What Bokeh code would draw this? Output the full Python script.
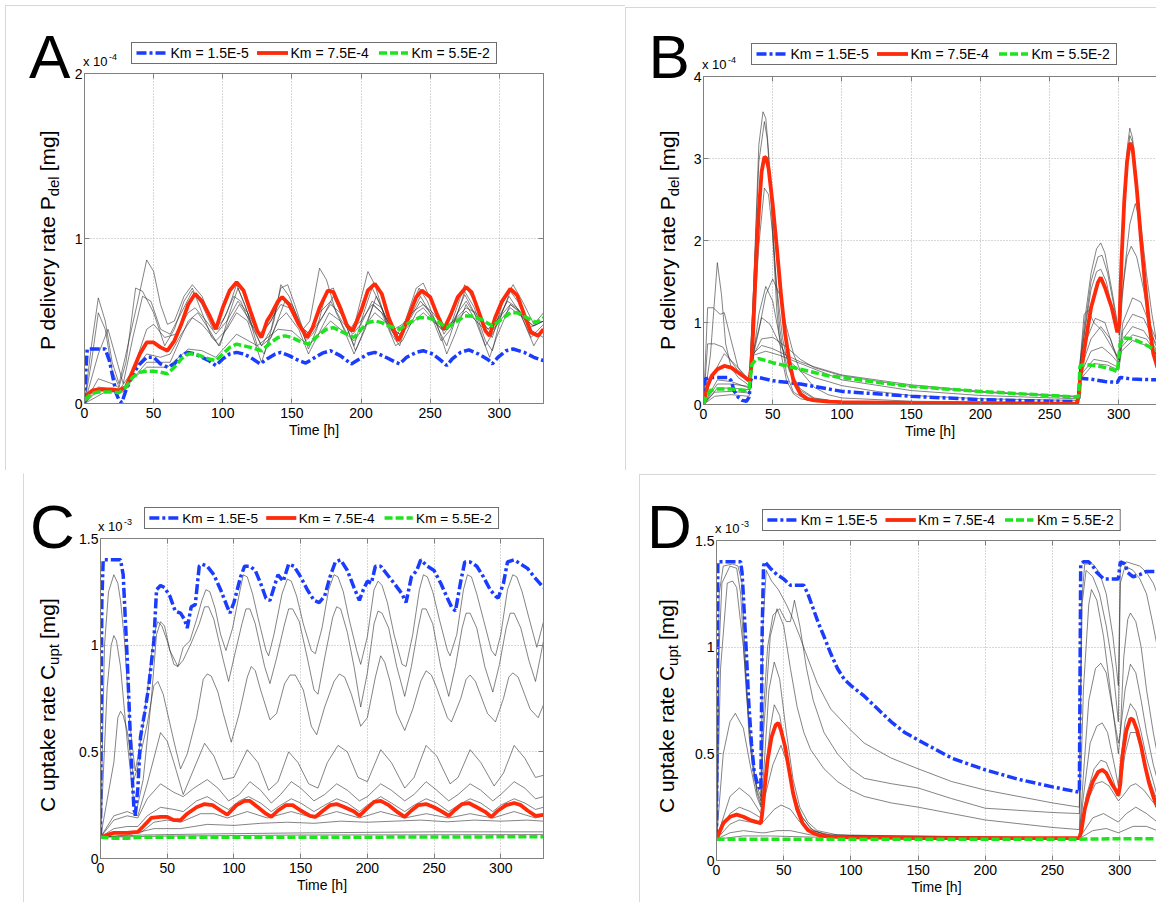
from bokeh.plotting import figure
from bokeh.models import Range1d, FixedTicker, Spacer, Div, LinearAxis, CustomJSTickFormatter
from bokeh.layouts import column, row
from bokeh.embed import file_html
from bokeh.resources import INLINE

# ---------------------------------------------------------------- data
TIME_TICKS = [0, 50, 100, 150, 200, 250, 300]
LEGEND_LABELS = ["Km = 1.5E-5", "Km = 7.5E-4", "Km = 5.5E-2"]
A_YTICKS = [0, 1, 2]
B_YTICKS = [0, 1, 2, 3, 4]
CD_YTICKS = [0, 0.5, 1, 1.5]

# Panel A  (P delivery rate, x 1e-4 mg)
A_red = [(0,0.02),(3,0.06),(6,0.08),(10,0.085),(15,0.085),(20,0.085),(25,0.08),(30,0.1),(35,0.2),(40,0.3),(45,0.37),(50,0.37),(55,0.34),(60,0.32),(65,0.38),(70,0.48),(75,0.6),(80,0.665),(85,0.62),(90,0.54),(95,0.45),(100,0.58),(105,0.685),(110,0.735),(115,0.685),(120,0.56),(125,0.44),(128,0.40),(132,0.50),(135,0.54),(140,0.62),(143,0.645),(148,0.60),(155,0.48),(161,0.40),(165,0.46),(170,0.58),(176,0.685),(180,0.675),(185,0.58),(190,0.47),(194,0.44),(200,0.56),(205,0.685),(210,0.725),(215,0.665),(220,0.52),(227,0.38),(230,0.43),(235,0.54),(240,0.645),(244,0.685),(250,0.645),(255,0.54),(260,0.45),(265,0.54),(270,0.645),(276,0.705),(280,0.675),(285,0.56),(290,0.44),(293,0.41),(297,0.52),(302,0.62),(308,0.695),(313,0.655),(318,0.54),(323,0.43),(328,0.41),(332,0.45)]
A_blue = [(0,0),(1,0.2),(2,0.33),(8,0.33),(15,0.33),(18,0.26),(20,0.18),(23,0.06),(25,0.02),(27,0.005),(30,0.08),(35,0.18),(40,0.24),(45,0.28),(50,0.28),(55,0.24),(60,0.22),(65,0.24),(70,0.29),(75,0.31),(80,0.30),(85,0.28),(90,0.26),(95,0.23),(100,0.27),(105,0.30),(110,0.31),(115,0.30),(120,0.28),(127,0.24),(132,0.27),(138,0.30),(142,0.31),(148,0.29),(155,0.26),(160,0.245),(165,0.27),(172,0.305),(178,0.32),(185,0.29),(193,0.24),(198,0.265),(205,0.30),(210,0.31),(218,0.28),(225,0.25),(228,0.24),(233,0.28),(240,0.31),(245,0.32),(252,0.30),(258,0.26),(262,0.23),(266,0.27),(272,0.31),(278,0.325),(285,0.30),(292,0.265),(295,0.24),(299,0.28),(305,0.32),(310,0.33),(318,0.31),(325,0.28),(332,0.26)]
A_green = [(0,0.02),(5,0.06),(10,0.07),(20,0.07),(25,0.065),(30,0.1),(35,0.16),(40,0.19),(45,0.195),(50,0.195),(55,0.19),(60,0.18),(65,0.22),(70,0.27),(75,0.30),(80,0.30),(85,0.285),(90,0.27),(95,0.26),(100,0.30),(105,0.34),(110,0.36),(115,0.35),(120,0.34),(128,0.32),(135,0.37),(140,0.40),(145,0.41),(150,0.40),(155,0.38),(162,0.36),(170,0.42),(175,0.45),(180,0.46),(185,0.44),(195,0.40),(200,0.45),(205,0.49),(210,0.50),(215,0.49),(220,0.47),(228,0.45),(235,0.49),(242,0.52),(248,0.52),(255,0.50),(262,0.46),(268,0.49),(275,0.53),(280,0.53),(287,0.51),(295,0.47),(300,0.50),(308,0.55),(313,0.55),(320,0.52),(327,0.49),(332,0.52)]
A_k1 = [(0,0),(5,0.35),(10,0.64),(15,0.5),(20,0.25),(25,0.12),(30,0.3),(38,0.6),(45,0.87),(50,0.8),(55,0.6),(60,0.48),(65,0.5),(72,0.65),(78,0.72),(85,0.65),(92,0.5),(97,0.45),(103,0.55),(110,0.72),(116,0.6),(122,0.45),(128,0.35),(135,0.45),(142,0.7),(147,0.72),(152,0.6),(158,0.45),(163,0.5),(170,0.82),(175,0.75),(182,0.55),(190,0.42),(196,0.5),(205,0.8),(210,0.72),(218,0.5),(225,0.4),(232,0.5),(240,0.7),(245,0.73),(252,0.6),(260,0.42),(266,0.5),(275,0.72),(282,0.62),(290,0.45),(295,0.4),(302,0.6),(310,0.72),(318,0.6),(325,0.48),(332,0.55)]
A_k2 = [(0,0),(5,0.25),(10,0.55),(15,0.45),(20,0.2),(25,0.1),(30,0.25),(37,0.7),(42,0.68),(50,0.55),(58,0.35),(65,0.45),(72,0.62),(78,0.7),(85,0.55),(92,0.4),(98,0.35),(105,0.55),(111,0.7),(118,0.55),(125,0.35),(130,0.3),(137,0.5),(142,0.72),(148,0.65),(155,0.5),(162,0.33),(168,0.45),(175,0.68),(180,0.7),(188,0.5),(195,0.35),(202,0.55),(208,0.7),(214,0.6),(222,0.42),(228,0.35),(235,0.55),(242,0.7),(248,0.62),(256,0.45),(262,0.35),(268,0.5),(275,0.68),(282,0.58),(290,0.38),(295,0.32),(302,0.55),(308,0.68),(315,0.6),(322,0.45),(332,0.4)]
A_k3 = [(0,0),(10,0.3),(17,0.45),(22,0.3),(28,0.12),(35,0.4),(42,0.65),(48,0.62),(55,0.45),(62,0.42),(70,0.55),(78,0.68),(85,0.6),(93,0.45),(100,0.5),(108,0.65),(113,0.62),(120,0.48),(128,0.42),(135,0.5),(143,0.65),(150,0.6),(158,0.45),(163,0.42),(170,0.55),(178,0.62),(186,0.5),(194,0.42),(200,0.48),(208,0.62),(215,0.58),(222,0.45),(228,0.42),(236,0.52),(243,0.62),(250,0.55),(258,0.45),(263,0.45),(270,0.55),(276,0.62),(284,0.52),(292,0.45),(298,0.5),(306,0.62),(313,0.58),(322,0.46),(332,0.5)]
A_k4 = [(0,0),(10,0.15),(20,0.12),(28,0.08),(35,0.2),(45,0.3),(55,0.28),(62,0.3),(70,0.42),(78,0.52),(85,0.48),(95,0.38),(103,0.45),(110,0.55),(118,0.5),(128,0.25),(132,0.35),(140,0.5),(146,0.55),(155,0.45),(162,0.3),(168,0.4),(177,0.55),(185,0.5),(195,0.3),(200,0.4),(209,0.6),(215,0.55),(225,0.35),(230,0.38),(240,0.55),(245,0.58),(255,0.48),(262,0.3),(268,0.42),(276,0.6),(283,0.5),(293,0.28),(298,0.4),(308,0.6),(315,0.55),(325,0.35),(332,0.45)]
A_k5 = [(0,0),(10,0.1),(25,0.08),(35,0.2),(45,0.45),(50,0.48),(58,0.4),(66,0.42),(75,0.55),(80,0.58),(88,0.5),(95,0.42),(103,0.5),(111,0.62),(118,0.55),(126,0.42),(133,0.48),(142,0.6),(148,0.58),(156,0.47),(163,0.42),(170,0.5),(178,0.6),(185,0.55),(193,0.45),(200,0.5),(208,0.6),(215,0.55),(224,0.45),(230,0.48),(238,0.56),(245,0.6),(252,0.55),(260,0.46),(267,0.5),(276,0.58),(283,0.55),(292,0.45),(300,0.52),(308,0.6),(315,0.56),(324,0.47),(332,0.5)]
A_k6 = [(0,0),(15,0.07),(28,0.07),(35,0.15),(45,0.25),(55,0.25),(62,0.25),(75,0.5),(82,0.55),(90,0.45),(97,0.35),(105,0.5),(112,0.6),(120,0.5),(128,0.35),(135,0.4),(145,0.62),(152,0.55),(160,0.38),(165,0.42),(172,0.52),(180,0.65),(188,0.5),(196,0.32),(203,0.45),(211,0.65),(218,0.52),(226,0.38),(233,0.48),(243,0.65),(250,0.55),(258,0.38),(265,0.45),(275,0.66),(282,0.55),(290,0.35),(297,0.45),(307,0.65),(315,0.55),(323,0.4),(332,0.48)]
A_k7 = [(0,0),(10,0.08),(25,0.07),(35,0.15),(45,0.22),(60,0.22),(75,0.33),(85,0.32),(95,0.28),(110,0.42),(125,0.35),(140,0.45),(150,0.44),(162,0.35),(178,0.5),(195,0.38),(210,0.55),(228,0.42),(245,0.55),(260,0.44),(276,0.56),(293,0.42),(308,0.58),(325,0.47),(332,0.5)]

# Panel B  (P delivery rate, x 1e-4 mg)
B_red = [(0,0),(3,0.23),(6,0.35),(10,0.43),(15,0.47),(20,0.45),(25,0.39),(30,0.33),(33,0.29),(34.5,0.45),(36,0.94),(38,1.75),(40,2.36),(42,2.84),(44,3.02),(45.5,3.0),(47,2.88),(50,2.44),(53,1.91),(56,1.34),(59,0.86),(62,0.53),(65,0.29),(70,0.13),(75,0.07),(80,0.05),(90,0.036),(100,0.03),(150,0.02),(200,0.015),(270,0.01),(271.5,0.15),(272,0.29),(275,0.66),(280,1.18),(285,1.49),(287,1.55),(290,1.43),(295,1.18),(299,0.88),(300.5,0.98),(302,1.75),(304,2.48),(306,2.96),(308,3.19),(310,3.13),(313,2.64),(316,2.03),(319,1.47),(322,0.98),(325,0.62),(328,0.45)]
B_blue = [(0,0),(1,0.31),(5,0.33),(18,0.33),(20,0.29),(22,0.17),(25,0.09),(28,0.05),(31,0.04),(33,0.09),(34,0.29),(35,0.33),(40,0.33),(50,0.29),(60,0.27),(70,0.25),(80,0.22),(90,0.19),(100,0.16),(125,0.13),(150,0.1),(175,0.08),(200,0.06),(225,0.05),(250,0.04),(271,0.035),(272,0.32),(280,0.31),(290,0.28),(299,0.27),(301,0.33),(310,0.31),(328,0.30)]
B_green = [(0,0),(2,0.1),(5,0.17),(10,0.19),(20,0.19),(30,0.17),(33,0.19),(35,0.49),(38,0.55),(40,0.56),(50,0.51),(60,0.47),(70,0.43),(80,0.39),(90,0.35),(100,0.33),(125,0.27),(151,0.22),(175,0.19),(200,0.16),(225,0.135),(250,0.11),(271,0.09),(272,0.47),(275,0.49),(285,0.47),(295,0.43),(299,0.40),(301,0.74),(304,0.81),(310,0.80),(318,0.74),(325,0.68),(328,0.66)]
B_k1 = [(0,0),(5,0.6),(10,1.73),(13,1.34),(16,0.74),(20,0.45),(25,0.33),(30,0.27),(33,0.23),(36,1.34),(40,3.17),(43,3.57),(45,3.49),(47,3.09),(50,2.07),(53,1.14),(56,0.62),(60,0.29),(65,0.13),(70,0.07),(80,0.04),(100,0.02),(200,0.01),(270,0.01),(272,0.5),(276,1.1),(280,1.6),(284,1.9),(287,1.97),(290,1.85),(295,1.4),(299,1.0),(300.5,0.95),(303,2.2),(306,3.1),(308,3.37),(310,3.25),(313,2.7),(316,2.0),(319,1.4),(322,0.95),(325,0.65),(328,0.5)]
B_k2 = [(0,0),(3,1.18),(7,1.18),(12,1.1),(15,1.12),(20,0.78),(25,0.45),(30,0.33),(33,0.29),(36,1.34),(40,2.96),(44,3.45),(46,3.25),(49,2.56),(52,1.59),(55,0.94),(60,0.37),(65,0.15),(75,0.05),(100,0.02),(270,0.01),(272,0.45),(276,1.0),(280,1.5),(285,1.8),(288,1.82),(292,1.6),(296,1.25),(299,0.95),(300.5,0.9),(303,2.0),(306,2.9),(308,3.28),(310,3.2),(313,2.75),(316,2.1),(319,1.5),(322,1.0),(325,0.7),(328,0.55)]
B_k3 = [(0,0),(3,0.74),(8,0.74),(14,0.70),(20,0.53),(25,0.41),(33,0.29),(36,0.86),(40,1.95),(44,2.64),(47,2.56),(50,2.07),(53,1.43),(57,0.82),(62,0.41),(70,0.17),(80,0.07),(100,0.03),(200,0.015),(270,0.01),(272,0.45),(276,0.95),(280,1.4),(284,1.62),(287,1.65),(291,1.5),(296,1.1),(299,0.9),(300.5,0.85),(304,1.6),(308,2.2),(312,2.45),(316,2.2),(320,1.6),(324,1.1),(328,0.7)]
B_k4 = [(0,0),(5,0.3),(15,0.62),(25,0.45),(33,0.3),(36,0.6),(40,0.9),(45,1.34),(50,1.53),(55,1.34),(60,0.94),(65,0.62),(70,0.41),(80,0.21),(90,0.12),(100,0.08),(150,0.04),(200,0.03),(270,0.02),(272,0.5),(275,1.1),(278,1.15),(282,1.0),(288,0.9),(295,0.7),(300,0.55),(302,1.3),(306,1.8),(309,1.93),(313,1.8),(318,1.4),(322,1.0),(326,0.75),(328,0.68)]
B_k5 = [(0,0),(10,0.3),(20,0.28),(33,0.2),(36,0.6),(40,1.1),(45,1.44),(50,1.26),(55,0.82),(60,0.49),(70,0.19),(80,0.08),(100,0.03),(270,0.015),(272,0.4),(277,0.8),(283,1.05),(290,1.0),(296,0.7),(300,0.55),(303,1.0),(310,1.3),(316,1.25),(322,1.0),(328,0.75)]
B_k6 = [(0,0),(10,0.25),(20,0.25),(33,0.22),(36,0.65),(42,1.06),(48,0.98),(55,0.74),(62,0.53),(70,0.41),(80,0.33),(100,0.23),(125,0.16),(150,0.11),(200,0.07),(270,0.05),(272,0.4),(280,0.8),(287,0.95),(294,0.8),(300,0.5),(303,0.9),(310,1.1),(318,1.05),(325,0.8),(328,0.72)]
B_k7 = [(0,0),(10,0.2),(20,0.2),(33,0.18),(36,0.6),(42,0.8),(50,0.82),(60,0.7),(70,0.55),(80,0.45),(100,0.35),(150,0.22),(200,0.15),(270,0.09),(272,0.35),(280,0.65),(288,0.7),(295,0.6),(300,0.5),(303,0.8),(310,0.95),(318,0.9),(328,0.65)]
B_k8 = [(0,0),(8,0.15),(20,0.16),(33,0.14),(36,0.62),(42,0.72),(50,0.68),(60,0.6),(70,0.52),(80,0.46),(100,0.36),(150,0.24),(200,0.16),(270,0.1),(272,0.35),(282,0.55),(292,0.52),(300,0.45),(302,0.7),(310,0.85),(320,0.8),(328,0.6)]
B_k9 = [(0,0),(8,0.1),(20,0.12),(33,0.1),(36,0.6),(45,0.65),(55,0.6),(70,0.5),(100,0.3),(150,0.17),(200,0.11),(270,0.07),(272,0.3),(282,0.5),(292,0.48),(300,0.42),(302,0.65),(310,0.78),(320,0.72),(328,0.6)]

# Panel C  (C uptake rate, x 1e-3 mg)
C_blue = [(0,0.1),(1,1.2),(2,1.40),(15,1.40),(17,1.33),(20,0.94),(23,0.475),(25,0.24),(26,0.2),(28,0.33),(30,0.57),(33,0.68),(36,0.80),(40,1.02),(42,1.26),(45,1.28),(48,1.27),(52,1.23),(56,1.16),(60,1.15),(63,1.12),(65,1.08),(68,1.18),(71,1.19),(74,1.37),(76,1.38),(80,1.37),(85,1.33),(90,1.26),(95,1.18),(97,1.15),(100,1.20),(105,1.32),(108,1.37),(112,1.37),(116,1.35),(120,1.29),(124,1.22),(127,1.21),(130,1.27),(133,1.33),(137,1.30),(141,1.38),(145,1.37),(150,1.32),(155,1.26),(160,1.21),(164,1.20),(168,1.23),(172,1.32),(176,1.39),(180,1.40),(185,1.35),(190,1.27),(194,1.21),(197,1.26),(200,1.30),(203,1.29),(206,1.37),(210,1.37),(215,1.33),(220,1.29),(226,1.24),(229,1.20),(233,1.32),(237,1.35),(240,1.40),(245,1.37),(250,1.35),(255,1.29),(260,1.22),(263,1.18),(266,1.16),(270,1.30),(273,1.39),(277,1.39),(282,1.37),(287,1.32),(292,1.26),(296,1.23),(298,1.22),(302,1.29),(305,1.39),(310,1.40),(315,1.38),(320,1.36),(325,1.32),(332,1.27)]
C_red = [(0,0.1),(10,0.12),(20,0.12),(28,0.125),(32,0.15),(38,0.19),(45,0.195),(50,0.195),(55,0.18),(60,0.18),(65,0.21),(72,0.24),(78,0.255),(84,0.25),(90,0.225),(95,0.205),(102,0.25),(108,0.27),(112,0.27),(118,0.24),(124,0.21),(128,0.195),(133,0.225),(139,0.25),(144,0.25),(150,0.225),(157,0.20),(161,0.195),(166,0.22),(172,0.25),(177,0.255),(183,0.24),(190,0.22),(194,0.20),(199,0.23),(205,0.265),(210,0.27),(216,0.25),(222,0.22),(228,0.195),(233,0.225),(238,0.25),(244,0.255),(250,0.24),(256,0.22),(261,0.20),(266,0.23),(271,0.255),(276,0.26),(282,0.24),(288,0.22),(293,0.195),(298,0.225),(304,0.25),(310,0.26),(315,0.25),(320,0.225),(326,0.20),(332,0.205)]
C_green = [(0,0.1),(10,0.095),(20,0.095),(30,0.1),(100,0.1),(200,0.1),(332,0.102)]
C_k1 = [(0,0.1),(3,1.0),(6,1.25),(10,1.33),(13,1.29),(15,1.21),(18,1.02),(22,0.63),(26,0.41),(28,0.475),(32,0.63),(36,0.83),(40,1.05),(43,1.11),(46,1.09),(50,1.02),(55,0.91),(58,0.90),(62,0.99),(67,1.02),(72,1.12),(76,1.21),(79,1.26),(82,1.25),(86,1.17),(90,1.05),(94,0.975),(99,1.08),(104,1.24),(107,1.33),(110,1.32),(114,1.24),(118,1.13),(124,0.975),(126,0.95),(130,1.05),(136,1.24),(140,1.31),(143,1.30),(147,1.23),(152,1.10),(158,0.975),(161,0.96),(166,1.08),(171,1.26),(175,1.33),(178,1.32),(182,1.25),(186,1.13),(192,0.975),(195,0.91),(200,1.04),(205,1.26),(208,1.30),(211,1.28),(215,1.20),(220,1.05),(226,0.91),(229,0.90),(234,1.05),(239,1.26),(242,1.33),(245,1.32),(249,1.25),(254,1.12),(260,0.975),(262,0.95),(267,1.05),(272,1.26),(275,1.33),(278,1.32),(282,1.24),(287,1.12),(293,0.975),(296,0.95),(300,1.05),(305,1.26),(309,1.33),(312,1.32),(316,1.25),(321,1.13),(327,0.99),(332,1.11)]
C_k2 = [(0,0.1),(5,0.8),(8,1.0),(10,1.045),(12,1.02),(15,0.90),(20,0.55),(25,0.26),(27,0.225),(32,0.37),(38,0.74),(42,1.05),(45,1.11),(48,1.09),(52,0.975),(58,0.90),(62,0.93),(68,1.01),(74,1.10),(78,1.18),(81,1.18),(85,1.12),(92,0.93),(96,0.83),(100,0.94),(106,1.10),(109,1.17),(112,1.17),(116,1.10),(123,0.90),(127,0.82),(132,0.94),(138,1.10),(141,1.17),(144,1.17),(149,1.11),(155,0.94),(160,0.79),(163,0.77),(168,0.94),(174,1.13),(177,1.18),(180,1.17),(185,1.06),(190,0.90),(195,0.71),(200,0.87),(205,1.10),(208,1.16),(211,1.15),(216,1.08),(222,0.90),(228,0.76),(233,0.90),(238,1.08),(241,1.17),(244,1.17),(249,1.10),(255,0.90),(261,0.76),(266,0.90),(271,1.08),(274,1.15),(277,1.15),(282,1.08),(288,0.90),(294,0.78),(299,0.91),(304,1.08),(307,1.15),(310,1.15),(315,1.08),(321,0.93),(326,0.83),(332,1.02)]
C_k3 = [(0,0.1),(10,0.45),(13,0.66),(15,0.69),(17,0.67),(20,0.6),(25,0.37),(28,0.43),(35,0.63),(40,0.81),(43,0.83),(47,0.77),(55,0.55),(60,0.42),(65,0.49),(72,0.66),(77,0.84),(80,0.865),(83,0.855),(88,0.78),(92,0.68),(98,0.545),(104,0.68),(110,0.85),(113,0.90),(116,0.88),(120,0.79),(127,0.65),(132,0.68),(138,0.82),(142,0.86),(146,0.86),(152,0.79),(158,0.62),(162,0.58),(168,0.71),(175,0.83),(179,0.865),(183,0.85),(188,0.77),(195,0.62),(200,0.66),(206,0.85),(210,0.95),(213,0.92),(217,0.83),(222,0.68),(228,0.6),(234,0.7),(240,0.83),(244,0.88),(248,0.86),(252,0.8),(260,0.66),(263,0.64),(270,0.75),(274,0.84),(277,0.86),(281,0.83),(290,0.68),(296,0.64),(302,0.75),(306,0.85),(309,0.87),(313,0.85),(322,0.7),(328,0.66),(332,0.72)]
C_k4 = [(0,0.1),(10,0.2),(20,0.22),(28,0.2),(35,0.35),(45,0.59),(50,0.55),(55,0.45),(62,0.30),(70,0.42),(78,0.54),(85,0.48),(92,0.37),(100,0.38),(110,0.51),(118,0.45),(126,0.32),(133,0.36),(141,0.5),(148,0.45),(156,0.35),(163,0.33),(170,0.45),(178,0.53),(185,0.5),(193,0.38),(200,0.36),(210,0.51),(218,0.45),(228,0.33),(235,0.38),(244,0.53),(252,0.48),(262,0.35),(268,0.38),(277,0.51),(285,0.45),(295,0.34),(302,0.4),(310,0.53),(318,0.47),(326,0.38),(332,0.39)]
C_k5 = [(0,0.1),(10,0.18),(20,0.2),(28,0.19),(35,0.28),(45,0.35),(55,0.31),(62,0.29),(70,0.33),(80,0.37),(88,0.33),(96,0.27),(104,0.3),(112,0.36),(120,0.32),(128,0.26),(135,0.3),(143,0.36),(150,0.33),(160,0.27),(168,0.3),(177,0.35),(185,0.32),(194,0.27),(200,0.29),(210,0.35),(218,0.32),(228,0.27),(235,0.3),(244,0.36),(252,0.32),(261,0.27),(268,0.3),(277,0.35),(285,0.32),(294,0.27),(300,0.3),(310,0.36),(318,0.33),(326,0.28),(332,0.29)]
C_k6 = [(0,0.1),(10,0.14),(20,0.15),(28,0.15),(35,0.2),(45,0.24),(55,0.23),(62,0.22),(72,0.27),(80,0.29),(90,0.25),(96,0.23),(104,0.27),(111,0.29),(120,0.26),(128,0.22),(135,0.25),(143,0.28),(150,0.26),(160,0.22),(168,0.25),(177,0.28),(185,0.26),(194,0.22),(200,0.25),(210,0.29),(218,0.26),(228,0.22),(235,0.25),(244,0.28),(252,0.26),(261,0.22),(268,0.25),(277,0.28),(285,0.26),(294,0.22),(300,0.25),(310,0.28),(318,0.26),(326,0.23),(332,0.24)]
C_k7 = [(0,0.1),(10,0.12),(30,0.12),(40,0.17),(50,0.18),(60,0.17),(75,0.21),(85,0.21),(95,0.19),(110,0.22),(125,0.19),(143,0.22),(160,0.19),(177,0.22),(194,0.19),(210,0.22),(228,0.19),(244,0.21),(261,0.19),(277,0.21),(294,0.19),(310,0.22),(326,0.19),(332,0.2)]
C_k8 = [(0,0.1),(20,0.11),(40,0.14),(60,0.14),(80,0.16),(100,0.155),(120,0.165),(140,0.17),(160,0.165),(180,0.175),(200,0.17),(220,0.175),(240,0.18),(260,0.172),(280,0.18),(300,0.175),(320,0.18),(332,0.175)]
C_k9 = [(0,0.1),(30,0.11),(80,0.115),(150,0.12),(250,0.125),(332,0.125)]
C_k10 = [(0,0.1),(50,0.105),(150,0.11),(332,0.112)]

# Panel D  (C uptake rate, x 1e-3 mg)
D_blue = [(0,0.1),(1,1.40),(18,1.40),(19,1.35),(20,1.24),(22,1.0),(24,0.74),(26,0.55),(28,0.42),(30,0.37),(32,0.34),(33,0.33),(34,1.08),(35,1.38),(36,1.40),(40,1.37),(45,1.34),(50,1.32),(55,1.29),(60,1.29),(65,1.29),(68,1.25),(72,1.18),(76,1.11),(80,1.05),(85,0.97),(90,0.9),(95,0.85),(100,0.82),(110,0.77),(120,0.71),(130,0.65),(140,0.60),(150,0.565),(175,0.48),(200,0.425),(225,0.38),(250,0.345),(270,0.32),(271,1.39),(273,1.40),(277,1.40),(280,1.38),(283,1.35),(288,1.32),(294,1.32),(299,1.32),(300.5,1.40),(304,1.39),(306,1.35),(310,1.33),(315,1.34),(320,1.355),(328,1.355)]
D_red = [(0,0.1),(5,0.175),(10,0.205),(15,0.215),(20,0.205),(25,0.19),(30,0.18),(33,0.175),(34,0.22),(36,0.35),(38,0.47),(41,0.58),(44,0.635),(46,0.645),(48,0.61),(51,0.535),(54,0.425),(57,0.315),(60,0.24),(64,0.175),(68,0.143),(72,0.128),(78,0.115),(85,0.112),(100,0.108),(150,0.105),(270,0.105),(271.5,0.14),(274,0.24),(277,0.31),(280,0.37),(284,0.415),(287,0.425),(290,0.41),(294,0.36),(297,0.33),(299,0.305),(300.5,0.36),(302,0.49),(305,0.61),(308,0.665),(310,0.66),(313,0.61),(316,0.535),(319,0.44),(322,0.36),(325,0.30),(328,0.25)]
D_green = [(0,0.1),(100,0.1),(270,0.1),(300,0.102),(328,0.102)]
D_k1 = [(0,0.1),(2,1.25),(5,1.38),(12,1.39),(16,1.38),(19,1.30),(21,1.0),(24,0.6),(28,0.38),(33,0.30),(34.5,1.1),(37,1.36),(41,1.31),(46,1.27),(52,1.2),(57,1.13),(62,1.05),(66,0.98),(75,0.83),(85,0.71),(100,0.61),(110,0.55),(130,0.48),(150,0.43),(175,0.37),(200,0.33),(225,0.3),(250,0.27),(270,0.25),(271.5,1.2),(274,1.39),(280,1.39),(285,1.35),(290,1.25),(295,1.05),(299,0.82),(300.5,1.38),(305,1.4),(310,1.39),(315,1.38),(320,1.35),(325,1.3),(328,1.25)]
D_k2 = [(0,0.1),(2,1.0),(4,1.3),(10,1.38),(15,1.37),(18,1.25),(22,0.8),(26,0.5),(30,0.33),(33,0.28),(35,0.7),(38,1.0),(42,1.15),(47,1.18),(52,1.12),(55,1.12),(58,1.22),(62,1.1),(67,0.9),(72,0.75),(80,0.6),(90,0.5),(100,0.43),(110,0.385),(130,0.36),(150,0.34),(175,0.29),(200,0.245),(225,0.235),(250,0.225),(270,0.22),(272,1.2),(275,1.36),(280,1.33),(285,1.25),(290,1.1),(295,0.9),(299,0.65),(300.5,1.3),(304,1.38),(310,1.36),(315,1.32),(320,1.25),(325,1.1),(328,1.0)]
D_k3 = [(0,0.1),(3,0.9),(8,1.3),(12,1.31),(15,1.28),(20,1.0),(25,0.6),(30,0.32),(33,0.26),(35,0.6),(40,1.05),(45,1.18),(50,1.1),(55,0.9),(60,0.72),(65,0.6),(70,0.52),(80,0.43),(90,0.37),(100,0.33),(110,0.30),(130,0.27),(150,0.25),(200,0.19),(250,0.155),(270,0.145),(273,0.8),(277,1.2),(279,1.27),(283,1.22),(288,1.05),(293,0.8),(299,0.5),(300.5,0.6),(303,0.95),(306,1.13),(308,1.16),(312,1.12),(316,1.0),(320,0.8),(325,0.6),(328,0.5)]
D_k4 = [(0,0.1),(5,0.5),(10,0.65),(14,0.69),(20,0.62),(25,0.45),(30,0.3),(33,0.25),(35,0.4),(39,0.8),(43,0.93),(47,0.85),(52,0.6),(57,0.38),(62,0.25),(68,0.18),(75,0.14),(90,0.12),(120,0.11),(270,0.105),(273,0.4),(277,0.75),(282,0.9),(286,0.925),(290,0.88),(295,0.7),(299,0.55),(300.5,0.6),(304,0.8),(308,0.92),(312,0.88),(316,0.75),(320,0.6),(325,0.45),(328,0.38)]
D_k5 = [(0,0.1),(10,0.3),(17,0.34),(25,0.3),(33,0.22),(36,0.4),(40,0.62),(43,0.73),(47,0.68),(52,0.5),(57,0.33),(62,0.22),(70,0.15),(80,0.12),(100,0.11),(270,0.105),(273,0.3),(278,0.55),(283,0.63),(287,0.645),(291,0.6),(296,0.45),(299,0.35),(300.5,0.45),(304,0.65),(308,0.735),(312,0.7),(316,0.6),(320,0.48),(325,0.37),(328,0.3)]
D_k6 = [(0,0.1),(10,0.22),(17,0.25),(25,0.23),(33,0.2),(36,0.3),(42,0.45),(48,0.54),(53,0.45),(58,0.3),(64,0.2),(72,0.14),(85,0.115),(270,0.105),(275,0.3),(281,0.43),(286,0.47),(290,0.46),(295,0.38),(299,0.3),(300.5,0.35),(304,0.5),(308,0.6),(312,0.6),(316,0.52),(320,0.42),(325,0.33),(328,0.28)]
D_k7 = [(0,0.1),(10,0.17),(17,0.19),(25,0.18),(33,0.17),(36,0.19),(43,0.24),(48,0.26),(55,0.24),(62,0.18),(70,0.14),(85,0.12),(270,0.105),(276,0.28),(282,0.36),(287,0.37),(292,0.35),(299,0.28),(302,0.3),(308,0.35),(312,0.36),(318,0.33),(324,0.28),(328,0.25)]
D_k8 = [(0,0.1),(10,0.13),(20,0.14),(33,0.13),(36,0.13),(45,0.14),(55,0.14),(70,0.12),(270,0.105),(280,0.2),(288,0.22),(299,0.18),(305,0.22),(312,0.25),(320,0.22),(328,0.18)]
D_k9 = [(0,0.1),(20,0.115),(40,0.115),(70,0.11),(270,0.103),(280,0.14),(290,0.15),(299,0.13),(310,0.16),(320,0.16),(328,0.14)]

# ---------------------------------------------------------------- style
BLUE = "#1a3cff"
RED = "#ff2a0a"
GREEN = "#1ee41e"
AXIS_GRAY = "#808080"
PANEL_LINE = "1px solid #d8d8d8"
TICK_FONT = "Liberation Sans"
LABEL_FONT = "Lato"
BLUE_STYLE = dict(line_color=BLUE, line_width=3.5, line_dash="10 3 3 3")
RED_STYLE = dict(line_color=RED, line_width=3.8)
GREEN_STYLE = dict(line_color=GREEN, line_width=3.5, line_dash="8 3")
SVG_LINE = [(BLUE, 3.5, "10 3 3 3"), (RED, 3.8, None), (GREEN, 3.5, "8 3")]


def unzip(pairs):
    return [a for a, _ in pairs], [b for _, b in pairs]


def svg_div(w, h, body):
    svg = ('<svg xmlns="http://www.w3.org/2000/svg" width="%d" height="%d" '
           'style="display:block;overflow:visible">%s</svg>' % (w, h, body))
    return Div(text=svg, width=w, height=h, styles={"margin": "0", "padding": "0"})


def make_left(w, h, letter, letter_xy, ylabel, ylab_xy):
    """Strip left of the axes: panel letter and the rotated y label (SVG text)."""
    lx, ly = letter_xy
    bx, by = ylab_xy
    main, sub, tail = ylabel
    body = ('<text x="%g" y="%g" font-family="%s" font-size="62px" fill="#000">%s</text>'
            % (lx, ly, TICK_FONT, letter))
    body += ('<text transform="translate(%g,%g) rotate(-90)" font-family="%s" '
             'font-size="21px" fill="#000">%s<tspan font-size="15px" dy="4">%s</tspan>'
             '<tspan dx="5" dy="-4">%s</tspan></text>'
             % (bx, by, LABEL_FONT, main, sub, tail))
    return svg_div(w, h, body)


def make_head(w, h, exp, exp_xy, legend_xy, scale):
    """Strip above the axes: exponent and legend box (SVG)."""
    ex, ey = exp_xy
    gx, gy = legend_xy
    s = scale
    body = ('<text x="%g" y="%g" font-family="%s" font-size="13px" fill="#000">x 10'
            '<tspan font-size="9px" dx="1.5" dy="-6">%s</tspan></text>'
            % (ex, ey, TICK_FONT, exp))
    bw, bh = 365 * s, 21
    body += ('<rect x="%g" y="%g" width="%g" height="%g" fill="#fff" stroke="#6e6e6e" '
             'stroke-width="1"/>' % (gx + 0.5, gy + 0.5, bw, bh))
    cy = gy + 0.5 + bh / 2
    glyph_x = [(5.5, 37), (126, 157), (248, 277)]
    text_x = [39.5, 159.5, 280.5]
    for (x1, x2), tx, lab, (col, lw, dash) in zip(glyph_x, text_x, LEGEND_LABELS, SVG_LINE):
        dash_attr = ' stroke-dasharray="%s"' % dash if dash else ""
        body += ('<line x1="%g" y1="%g" x2="%g" y2="%g" stroke="%s" stroke-width="%g"%s/>'
                 % (gx + x1 * s, cy, gx + x2 * s, cy, col, lw, dash_attr))
        body += ('<text x="%g" y="%g" font-family="%s" font-size="%gpx" fill="#000">%s</text>'
                 % (gx + tx * s, cy + 5, TICK_FONT, 14 * s, lab))
    return svg_div(w, h, body)


def mirror_axis(ticks):
    """Unlabelled axis with inward ticks (MATLAB-style box on the top/right)."""
    return LinearAxis(ticker=FixedTicker(ticks=ticks),
                      formatter=CustomJSTickFormatter(code="return ''"),
                      axis_line_color=AXIS_GRAY, major_tick_line_color=AXIS_GRAY,
                      major_tick_in=5, major_tick_out=0, minor_tick_line_color=None,
                      major_label_standoff=0, major_label_text_font_size="0px",
                      major_label_text_color=None, axis_label_standoff=0)


def make_main(spec):
    fw, fh = spec["fw"], spec["fh"]
    bl, br, bt, bb = spec["borders"]
    clipped = spec["clipped"]
    p = figure(width=bl + fw + br, height=bt + fh + bb,
               x_range=Range1d(0, spec["xmax"]), y_range=Range1d(0, spec["ymax"]),
               output_backend="svg", toolbar_location=None,
               min_border_left=bl, min_border_right=br,
               min_border_top=bt, min_border_bottom=bb,
               outline_line_color=None if clipped else AXIS_GRAY,
               background_fill_color="white", border_fill_color=None)
    p.xaxis.ticker = FixedTicker(ticks=TIME_TICKS)
    p.yaxis.ticker = FixedTicker(ticks=spec["yticks"])
    p.yaxis.major_label_overrides = {t: ("%g" % t) for t in spec["yticks"]}
    p.xaxis.axis_label = "Time [h]"
    for ax in p.axis:
        ax.axis_line_color = AXIS_GRAY
        ax.major_tick_line_color = AXIS_GRAY
        ax.major_tick_in = 5
        ax.major_tick_out = 0
        ax.minor_tick_line_color = None
        ax.major_label_text_font = TICK_FONT
        ax.major_label_text_font_size = "14px"
        ax.major_label_text_color = "black"
        ax.axis_label_text_font = TICK_FONT
        ax.axis_label_text_font_size = "14px"
        ax.axis_label_text_font_style = "normal"
        ax.axis_label_text_color = "black"
        ax.axis_label_standoff = 1
    p.xaxis.major_label_standoff = 4
    p.yaxis.major_label_standoff = 2
    p.add_layout(mirror_axis(TIME_TICKS), "above")
    if not clipped:
        p.add_layout(mirror_axis(spec["yticks"]), "right")
    p.grid.grid_line_color = "#b0b0b0"
    p.grid.grid_line_dash = "1 2"
    p.grid.grid_line_width = 1

    xs, ys = [], []
    for line in spec["black"]:
        x, y = unzip(line)
        xs.append(x)
        ys.append(y)
    p.multi_line(xs, ys, line_color="#303030", line_width=0.7, line_alpha=0.85)
    bx, by = unzip(spec["blue"])
    rx, ry = unzip(spec["red"])
    gx, gy = unzip(spec["green"])
    p.line(bx, by, **BLUE_STYLE)
    p.line(rx, ry, **RED_STYLE)
    p.line(gx, gy, **GREEN_STYLE)
    return p


def panel(left, head, main, styles):
    return row(left, column(head, main), styles=styles)


# ---- Panel A  (content box x 6..625, y 6..470)
mA = make_main(dict(fw=460, fh=330, borders=(12, 82, 7, 67), xmax=332, ymax=2,
                    yticks=A_YTICKS, clipped=False,
                    black=[A_k1, A_k2, A_k3, A_k4, A_k5, A_k6, A_k7],
                    blue=A_blue, red=A_red, green=A_green))
hA = make_head(554, 60, "-4", (12, 60), (60, 36), 1.0)
lA = make_left(65, 464, "A", (23, 72), ("P delivery rate P", "del", "[mg]"), (49, 344))
# ---- Panel B  (content box x 626..1156, y 8..470)
mB = make_main(dict(fw=454, fh=328, borders=(12, 0, 7, 66), xmax=327.3, ymax=4,
                    yticks=B_YTICKS, clipped=True,
                    black=[B_k1, B_k2, B_k3, B_k4, B_k5, B_k6, B_k7, B_k8, B_k9],
                    blue=B_blue, red=B_red, green=B_green))
hB = make_head(466, 61, "-4", (12, 61), (61, 35), 1.0)
lB = make_left(64, 462, "B", (22.5, 70), ("P delivery rate P", "del", "[mg]"), (49, 342))
# ---- Panel C  (content box x 24..639, y 474..902)
mC = make_main(dict(fw=445, fh=320, borders=(22, 96, 7, 44), xmax=332, ymax=1.5,
                    yticks=CD_YTICKS, clipped=False,
                    black=[C_k1, C_k2, C_k3, C_k4, C_k5, C_k6, C_k7, C_k8, C_k9, C_k10],
                    blue=C_blue, red=C_red, green=C_green))
hC = make_head(563, 57, "-3", (22, 57), (68, 33), 0.97)
lC = make_left(52, 428, "C", (6, 74), ("C uptake rate C", "upt", "[mg]"), (31, 338))
# ---- Panel D  (content box x 640..1156, y 475..902)
mD = make_main(dict(fw=441, fh=320, borders=(23, 0, 7, 42), xmax=327.4, ymax=1.5,
                    yticks=CD_YTICKS, clipped=True,
                    black=[D_k1, D_k2, D_k3, D_k4, D_k5, D_k6, D_k7, D_k8, D_k9],
                    blue=D_blue, red=D_red, green=D_green))
hD = make_head(464, 58, "-3", (23, 58), (70, 34), 0.98)
lD = make_left(52, 427, "D", (7, 73), ("C uptake rate C", "upt", "[mg]"), (34, 338))

box = {"border-top": PANEL_LINE, "border-left": PANEL_LINE}
pA = panel(lA, hA, mA, box)
pB = column(Spacer(width=1, height=2), panel(lB, hB, mB, box))
pC = panel(lC, hC, mC, {"border-top": "1px solid white", "border-left": PANEL_LINE})
pD = column(Spacer(width=1, height=1), panel(lD, hD, mD, box))

layout = column(
    Spacer(width=1, height=5),
    row(Spacer(width=5, height=1), pA, pB),
    Spacer(width=1, height=3),
    row(Spacer(width=23, height=1), pC, pD),
)
open("out.html", "w").write(file_html(layout, INLINE))
